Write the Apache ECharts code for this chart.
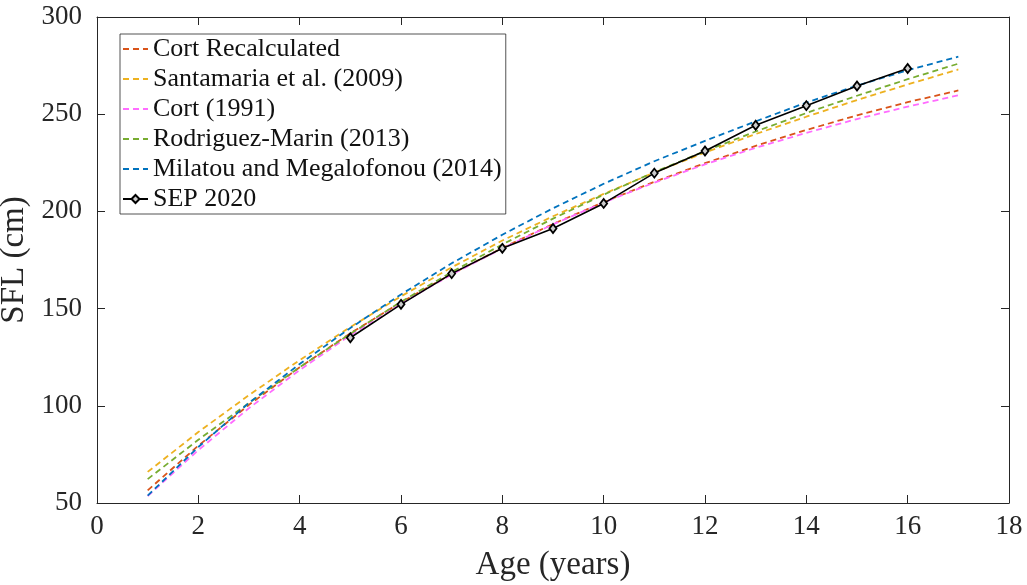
<!DOCTYPE html>
<html>
<head>
<meta charset="utf-8">
<script src="https://cdn.jsdelivr.net/npm/echarts@6/dist/echarts.min.js"></script>
<style>
  html, body { margin: 0; padding: 0; background: #ffffff; }
  #chart { width: 1027px; height: 585px; }
</style>
</head>
<body>
<div id="chart"></div>
<script>
// Ages (years) at which each growth model is evaluated
const ages = [1, 2, 3, 4, 5, 6, 7, 8, 9, 10, 11, 12, 13, 14, 15, 16, 17];

// Straight fork length (cm) for each published growth curve
const cortRecalculated = [56.5, 79.5, 100.5, 119.8, 137.3, 153.2, 167.8, 181.2, 193.5, 204.8, 215.2, 224.8, 233.7, 241.9, 249.4, 256.2, 262.2];
const santamaria2009 = [66.0, 86.5, 105.5, 123.5, 140.5, 156.3, 171.2, 185.0, 197.5, 209.0, 220.0, 230.3, 239.8, 248.7, 257.3, 265.3, 273.0];
const cort1991 = [53.6, 77.2, 98.8, 118.4, 136.3, 152.6, 167.5, 181.0, 193.3, 204.6, 214.8, 224.2, 232.7, 240.4, 247.5, 253.9, 259.7];
const rodriguezMarin2013 = [62.3, 82.5, 101.5, 119.8, 137.0, 153.5, 168.8, 183.0, 196.3, 208.6, 220.2, 231.0, 241.1, 250.6, 259.5, 268.0, 276.0];
const milatou2014 = [53.8, 78.8, 101.5, 121.5, 140.0, 157.3, 173.3, 188.0, 201.6, 214.2, 225.8, 236.3, 246.3, 256.0, 264.7, 272.6, 279.6];

// SEP 2020 mean length at age
const sepAges = [5, 6, 7, 8, 9, 10, 11, 12, 13, 14, 15, 16];
const sep2020 = [135.0, 152.2, 168.0, 181.0, 191.2, 204.1, 219.7, 231.1, 244.3, 254.4, 264.5, 273.5];

const xTicks = { min: 0, max: 18, interval: 2 };
const yTicks = { min: 50, max: 300, interval: 50 };

const serif = '"Liberation Serif", "DejaVu Serif", serif';
const axisInk = '#262626';

function pairs(xs, ys) { return xs.map((x, i) => [x, ys[i]]); }

function dashed(name, color, values) {
  return {
    name: name,
    type: 'line',
    data: pairs(ages, values),
    symbol: 'none',
    lineStyle: { color: color, width: 1.8, type: [6, 4] },
    itemStyle: { color: color },
    z: 2
  };
}

// Legend entries: dashed models show only their line sample
const dashedNames = ['Cort Recalculated', 'Santamaria et al. (2009)', 'Cort (1991)',
                     'Rodriguez-Marin (2013)', 'Milatou and Megalofonou (2014)'];
const legendData = dashedNames
  .map(n => ({ name: n, itemStyle: { opacity: 0 } }))
  .concat([{ name: 'SEP 2020' }]);

const chart = echarts.init(document.getElementById('chart'), null, { renderer: 'canvas' });

const tickCommon = {
  show: true, inside: true, length: 8,
  lineStyle: { color: axisInk, width: 1 }
};

chart.setOption({
  animation: false,
  backgroundColor: '#ffffff',
  grid: {
    left: 97, right: 18, top: 17, bottom: 82,
    containLabel: false,
    outerBoundsMode: 'none',
    show: false
  },
  legend: {
    orient: 'vertical',
    left: 120,
    top: 34,
    padding: [0, 4, 0, 2],
    itemGap: 0,
    itemWidth: 25,
    itemHeight: 10,
    backgroundColor: '#ffffff',
    borderColor: axisInk,
    borderWidth: 0.8,
    borderRadius: 0,
    textStyle: { fontFamily: serif, fontSize: 26, color: '#111', lineHeight: 30 },
    data: legendData
  },
  xAxis: [
    {
      type: 'value', min: xTicks.min, max: xTicks.max, interval: xTicks.interval,
      position: 'bottom',
      name: 'Age (years)', nameLocation: 'middle', nameGap: 46,
      nameTextStyle: { fontFamily: serif, fontSize: 33, color: axisInk },
      axisLine: { show: true, onZero: false, lineStyle: { color: axisInk, width: 1 } },
      axisTick: tickCommon,
      axisLabel: { fontFamily: serif, fontSize: 27, color: axisInk, margin: 10 },
      splitLine: { show: false }
    },
    {
      type: 'value', min: xTicks.min, max: xTicks.max, interval: xTicks.interval,
      position: 'top',
      axisLine: { show: true, onZero: false, lineStyle: { color: axisInk, width: 1 } },
      axisTick: tickCommon,
      axisLabel: { show: false },
      splitLine: { show: false }
    }
  ],
  yAxis: [
    {
      type: 'value', min: yTicks.min, max: yTicks.max, interval: yTicks.interval,
      position: 'left',
      name: 'SFL (cm)', nameLocation: 'middle', nameGap: 51, nameRotate: 90,
      nameTextStyle: { fontFamily: serif, fontSize: 33, color: axisInk },
      axisLine: { show: true, onZero: false, lineStyle: { color: axisInk, width: 1 } },
      axisTick: tickCommon,
      axisLabel: { fontFamily: serif, fontSize: 27, color: axisInk, margin: 15 },
      splitLine: { show: false }
    },
    {
      type: 'value', min: yTicks.min, max: yTicks.max, interval: yTicks.interval,
      position: 'right',
      axisLine: { show: true, onZero: false, lineStyle: { color: axisInk, width: 1 } },
      axisTick: tickCommon,
      axisLabel: { show: false },
      splitLine: { show: false }
    }
  ],
  series: [
    dashed(dashedNames[0], '#D95319', cortRecalculated),
    dashed(dashedNames[1], '#EDB120', santamaria2009),
    dashed(dashedNames[2], '#FF6CFF', cort1991),
    dashed(dashedNames[3], '#77AC30', rodriguezMarin2013),
    dashed(dashedNames[4], '#0072BD', milatou2014),
    {
      name: 'SEP 2020',
      type: 'line',
      data: pairs(sepAges, sep2020),
      symbol: 'diamond',
      symbolSize: [7, 9],
      showSymbol: true,
      lineStyle: { color: '#000000', width: 1.6, type: 'solid' },
      itemStyle: { color: '#cccccc', borderColor: '#000000', borderWidth: 1.8 },
      z: 3
    }
  ]
});
</script>
</body>
</html>
